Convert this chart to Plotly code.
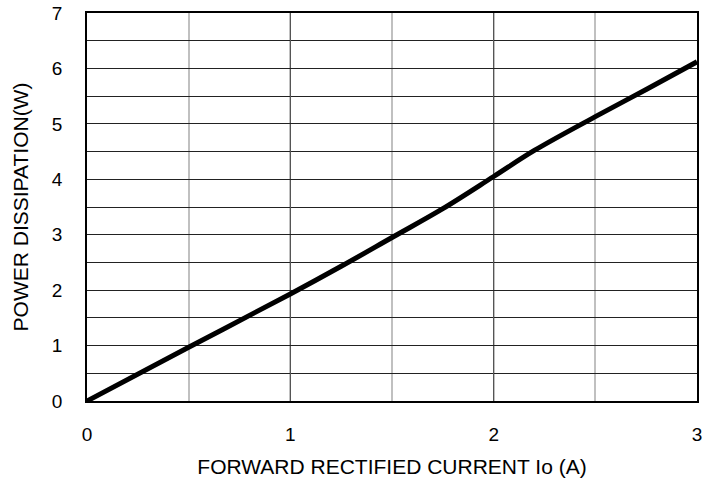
import plotly.graph_objects as go

current_a = [0, 0.5, 1.0, 1.25, 1.5, 1.75, 2.0, 2.2, 2.5, 2.75, 3.0]
power_w = [0, 0.97, 1.93, 2.43, 2.95, 3.47, 4.05, 4.52, 5.13, 5.62, 6.12]
x_ticks = [0, 1, 2, 3]
y_ticks = [0, 1, 2, 3, 4, 5, 6, 7]

fig = go.Figure()
fig.add_trace(go.Scatter(x=current_a, y=power_w, mode="lines",
                         line=dict(color="black", width=5, shape="spline", smoothing=1.0),
                         showlegend=False, cliponaxis=True))

tick_font = dict(family="Liberation Sans, Arial, sans-serif", size=19, color="black")
title_font = dict(family="Liberation Sans, Arial, sans-serif", size=21, color="black")
fig.update_layout(
    width=704, height=493,
    margin=dict(l=87, r=7, t=13, b=92, autoexpand=False),
    paper_bgcolor="white", plot_bgcolor="white",
    font=tick_font,
    xaxis=dict(range=[0, 3], tickvals=x_ticks, ticktext=[str(v) for v in x_ticks],
               automargin=False, ticklabeloverflow="allow",
               tickfont=tick_font,
               showgrid=True, gridcolor="#555555", gridwidth=1,
               minor=dict(dtick=0.5, showgrid=True, gridcolor="#c0c0c0", gridwidth=1.5),
               showline=True, linecolor="black", linewidth=1.5, mirror=True,
               ticks="outside", ticklen=15, tickcolor="rgba(0,0,0,0)",
               zeroline=False,
               title=dict(text="FORWARD RECTIFIED CURRENT Io (A)", standoff=16, font=title_font)),
    yaxis=dict(range=[0, 7], tickvals=y_ticks, ticktext=[str(v) for v in y_ticks],
               automargin=False, ticklabeloverflow="allow",
               tickfont=tick_font,
               showgrid=True, gridcolor="#222222", gridwidth=1,
               minor=dict(dtick=0.5, showgrid=True, gridcolor="#222222", gridwidth=1),
               showline=True, linecolor="black", linewidth=1.5, mirror=True,
               ticks="outside", ticklen=19, tickcolor="rgba(0,0,0,0)",
               zeroline=False,
               title=dict(text="POWER DISSIPATION(W)", standoff=18, font=title_font)),
)
fig.write_html("out.html", config={"displayModeBar": False},
               post_script="document.body.style.margin='0';document.body.style.overflow='hidden';")
